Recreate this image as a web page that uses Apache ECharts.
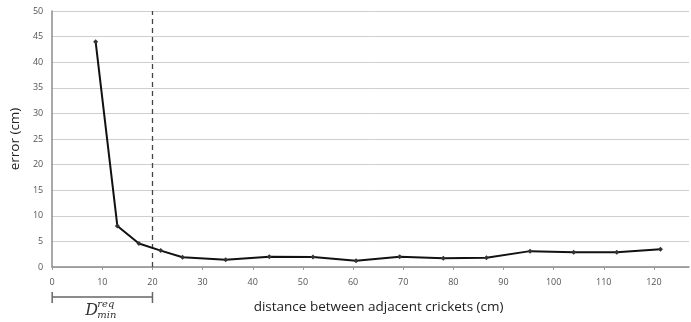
<!DOCTYPE html>
<html>
<head>
<meta charset="utf-8">
<script src="https://cdn.jsdelivr.net/npm/echarts@6/dist/echarts.min.js"></script>
<style>
  html, body { margin: 0; padding: 0; background: #fff; }
  #chart { width: 691px; height: 322px; }
</style>
</head>
<body>
<div id="chart"></div>
<script>
// distance between adjacent crickets (cm) and localisation error (cm)
const distance = [8.66, 13.0, 17.3, 21.65, 26.0, 34.6, 43.3, 52.0, 60.6, 69.3, 78.0, 86.6, 95.3, 104.0, 112.6, 121.3];
const error = [44.0, 8.0, 4.6, 3.2, 1.9, 1.4, 2.0, 1.95, 1.2, 2.0, 1.7, 1.8, 3.1, 2.9, 2.9, 3.45];
const minDistance = 20;

const chart = echarts.init(document.getElementById("chart"), null, { renderer: "canvas" });

const font = "'Open Sans', 'DejaVu Sans', sans-serif";

chart.setOption({
  animation: false,
  backgroundColor: "#ffffff",
  grid: { left: 50, right: 2, top: 11, bottom: 55 },
  xAxis: {
    type: "value",
    min: 0,
    max: 127,
    interval: 10,
    name: "distance between adjacent crickets (cm)",
    nameLocation: "middle",
    nameGap: 33,
    nameTextStyle: { color: "#222", fontSize: 13.5, fontFamily: font, padding: [0, 0, 0, 16] },
    axisLine: { lineStyle: { color: "#8c8c8c", width: 1.5 } },
    axisTick: { show: true, length: 3, lineStyle: { color: "#999" } },
    axisLabel: {
      color: "#555",
      fontSize: 9,
      fontFamily: font,
      margin: 11,
      showMaxLabel: false
    },
    splitLine: { show: false }
  },
  yAxis: {
    type: "value",
    min: 0,
    max: 50,
    interval: 5,
    name: "error (cm)",
    nameLocation: "middle",
    nameGap: 30,
    nameTextStyle: { color: "#222", fontSize: 13.5, fontFamily: font },
    axisLine: { show: true, lineStyle: { color: "#8c8c8c", width: 1.5 } },
    axisTick: { show: false },
    axisLabel: { color: "#555", fontSize: 9, fontFamily: font, margin: 9 },
    splitLine: { lineStyle: { color: "#cfcfcf", width: 1 } }
  },
  series: [
    {
      type: "line",
      data: distance.map((d, i) => [d, error[i]]),
      symbol: "diamond",
      symbolSize: 5,
      showSymbol: true,
      lineStyle: { color: "#111", width: 2 },
      itemStyle: { color: "#333" },
      z: 5,
      markLine: {
        silent: true,
        symbol: "none",
        label: { show: false },
        lineStyle: { color: "#444", type: [5, 4], width: 1.3 },
        data: [{ xAxis: minDistance }]
      }
    }
  ]
});

// bracket under the axis marking the minimum required distance
const p0 = chart.convertToPixel({ gridIndex: 0 }, [0, 0]);
const p1 = chart.convertToPixel({ gridIndex: 0 }, [minDistance, 0]);
const by = 297;
const cx = (p0[0] + p1[0]) / 2;
chart.setOption({
  graphic: [
    { type: "line", shape: { x1: p0[0], y1: by, x2: p1[0], y2: by }, style: { stroke: "#666", lineWidth: 1.5 } },
    { type: "line", shape: { x1: p0[0], y1: by - 5, x2: p0[0], y2: by + 6 }, style: { stroke: "#666", lineWidth: 1.5 } },
    { type: "line", shape: { x1: p1[0], y1: by - 5, x2: p1[0], y2: by + 6 }, style: { stroke: "#666", lineWidth: 1.5 } },
    {
      type: "text",
      x: cx - 17,
      y: 303,
      style: { text: "D", fill: "#333", font: "italic 16px 'DejaVu Serif', serif" }
    },
    {
      type: "text",
      x: cx - 5,
      y: 299,
      style: { text: "req", fill: "#333", font: "italic 10px 'DejaVu Serif', serif" }
    },
    {
      type: "text",
      x: cx - 5,
      y: 310,
      style: { text: "min", fill: "#333", font: "italic 10px 'DejaVu Serif', serif" }
    }
  ]
});
</script>
</body>
</html>
